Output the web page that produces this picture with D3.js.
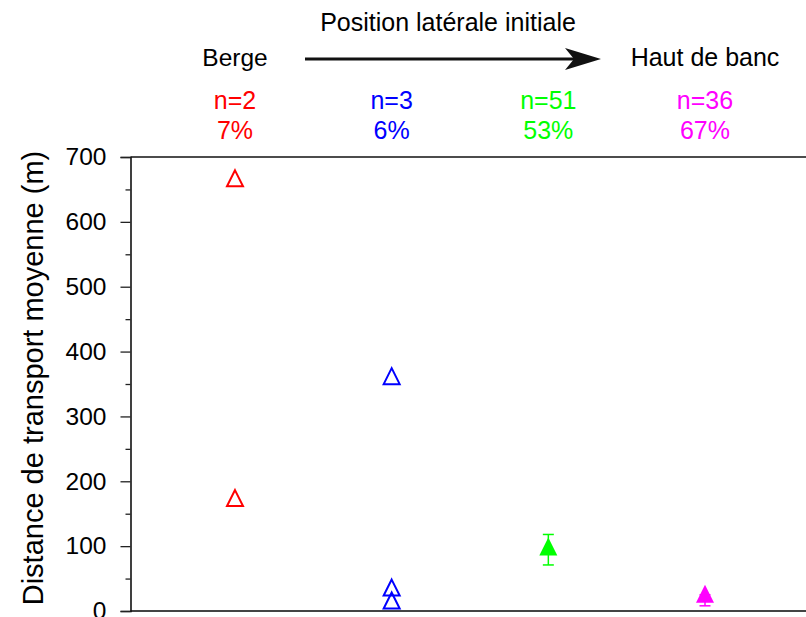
<!DOCTYPE html>
<html>
<head>
<meta charset="utf-8">
<script src="https://cdn.jsdelivr.net/npm/d3@7"></script>
<style>
  html, body { margin: 0; padding: 0; background: #fff; }
  svg { display: block; font-family: "Liberation Sans", Arial, sans-serif; }
</style>
</head>
<body>
<svg id="chart" width="806" height="617"></svg>
<script>
// Lateral starting positions, from the bank (Berge) to the bar top (Haut de banc)
const positions = [1, 2, 3, 4];
const groupColors = ["#ff0000", "#0000ff", "#00ff00", "#ff00ff"];
const groupCounts = [2, 3, 51, 36];
const groupPercents = [7, 6, 53, 67];

// Individual mean transport distances (open triangles)
const redValues = [663, 170];
const blueValues = [358, 32, 12];

// Group means with error bars (filled triangles)
const greenMean = 95, greenLow = 71, greenHigh = 118;
const magentaMean = 22, magentaLow = 8, magentaHigh = 25;

const yTicks = [0, 100, 200, 300, 400, 500, 600, 700];
const yMinorTicks = [50, 150, 250, 350, 450, 550, 650];

const svg = d3.select("#chart");
const plotLeft = 130.5, plotRight = 812, plotTop = 157, plotBottom = 611;

const x = d3.scalePoint().domain(positions).range([235, 705]);
const y = d3.scaleLinear().domain([0, 700]).range([plotBottom, plotTop]);

// Frame: top and bottom lines run off the right edge
svg.append("line").attr("x1", plotLeft).attr("x2", plotRight).attr("y1", plotTop).attr("y2", plotTop)
  .attr("stroke", "#111").attr("stroke-width", 1.6);
svg.append("line").attr("x1", plotLeft).attr("x2", plotRight).attr("y1", plotBottom).attr("y2", plotBottom)
  .attr("stroke", "#444").attr("stroke-width", 1.8);

// Left axis with major and minor ticks
const yAxis = d3.axisLeft(y).tickValues(yTicks).tickSize(10).tickPadding(0).tickFormat(d3.format("d"));
const gy = svg.append("g").attr("transform", `translate(${plotLeft},0)`).call(yAxis);
gy.select(".domain").attr("stroke", "#111").attr("stroke-width", 1.6);
gy.selectAll(".tick line").attr("stroke", "#222").attr("stroke-width", 1.3);
gy.selectAll(".tick text").attr("font-size", 24.5).attr("fill", "#000")
  .attr("font-family", "Liberation Sans, Arial, sans-serif").attr("x", -24);
const yMinor = d3.axisLeft(y).tickValues(yMinorTicks).tickSize(5).tickFormat("");
const gm = svg.append("g").attr("transform", `translate(${plotLeft},0)`).call(yMinor);
gm.select(".domain").remove();
gm.selectAll(".tick line").attr("stroke", "#222").attr("stroke-width", 1.3);

// Y axis title
svg.append("text")
  .attr("transform", "translate(43,378) rotate(-90)")
  .attr("text-anchor", "middle").attr("font-size", 29).attr("fill", "#000")
  .text("Distance de transport moyenne (m)");

// Header: direction of lateral position
svg.append("text").attr("x", 448).attr("y", 31).attr("text-anchor", "middle")
  .attr("font-size", 25).attr("fill", "#000").text("Position latérale initiale");
svg.append("text").attr("x", x(1)).attr("y", 66).attr("text-anchor", "middle")
  .attr("font-size", 24.5).attr("fill", "#000").text("Berge");
svg.append("text").attr("x", x(4)).attr("y", 66).attr("text-anchor", "middle")
  .attr("font-size", 25).attr("fill", "#000").text("Haut de banc");

const arrowY = 59;
svg.append("line").attr("x1", 305).attr("x2", 575).attr("y1", arrowY).attr("y2", arrowY)
  .attr("stroke", "#111").attr("stroke-width", 3);
svg.append("path")
  .attr("d", `M601,${arrowY} L565,${arrowY - 11} L574,${arrowY} L565,${arrowY + 11} Z`)
  .attr("fill", "#111");

// Sample sizes and percentages per group
svg.selectAll("text.count").data(positions).join("text").attr("class", "count")
  .attr("x", d => x(d)).attr("y", 109).attr("text-anchor", "middle")
  .attr("font-size", 25).attr("fill", (d, i) => groupColors[i])
  .text((d, i) => "n=" + groupCounts[i]);
svg.selectAll("text.pct").data(positions).join("text").attr("class", "pct")
  .attr("x", d => x(d)).attr("y", 139).attr("text-anchor", "middle")
  .attr("font-size", 25).attr("fill", (d, i) => groupColors[i])
  .text((d, i) => groupPercents[i] + "%");

// Triangle marker centred on its centroid
const tri = (cx, cy, w = 18, h = 18) => {
  const p = d3.path();
  p.moveTo(cx, cy - 2 * h / 3);
  p.lineTo(cx + w / 2, cy + h / 3);
  p.lineTo(cx - w / 2, cy + h / 3);
  p.closePath();
  return p.toString();
};

const openPoints = [
  ...redValues.map(v => ({ pos: 1, v, c: groupColors[0] })),
  ...blueValues.map(v => ({ pos: 2, v, c: groupColors[1] }))
];
svg.selectAll("path.open").data(openPoints).join("path").attr("class", "open")
  .attr("d", d => tri(x(d.pos), y(d.v), 16, 16))
  .attr("fill", "none").attr("stroke", d => d.c).attr("stroke-width", 2);

const meanPoints = [
  { pos: 3, mean: greenMean, lo: greenLow, hi: greenHigh, c: groupColors[2] },
  { pos: 4, mean: magentaMean, lo: magentaLow, hi: magentaHigh, c: groupColors[3] }
];
const eb = svg.selectAll("g.eb").data(meanPoints).join("g").attr("class", "eb");
eb.append("line").attr("x1", d => x(d.pos)).attr("x2", d => x(d.pos))
  .attr("y1", d => y(d.lo)).attr("y2", d => y(d.hi)).attr("stroke", d => d.c).attr("stroke-width", 1.5);
eb.append("line").attr("x1", d => x(d.pos) - 5.5).attr("x2", d => x(d.pos) + 5.5)
  .attr("y1", d => y(d.lo)).attr("y2", d => y(d.lo)).attr("stroke", d => d.c).attr("stroke-width", 1.5);
eb.append("line").attr("x1", d => x(d.pos) - 5.5).attr("x2", d => x(d.pos) + 5.5)
  .attr("y1", d => y(d.hi)).attr("y2", d => y(d.hi)).attr("stroke", d => d.c).attr("stroke-width", 1.5);
eb.append("path").attr("d", d => tri(x(d.pos), y(d.mean), 18, 18)).attr("fill", d => d.c);
</script>
</body>
</html>
